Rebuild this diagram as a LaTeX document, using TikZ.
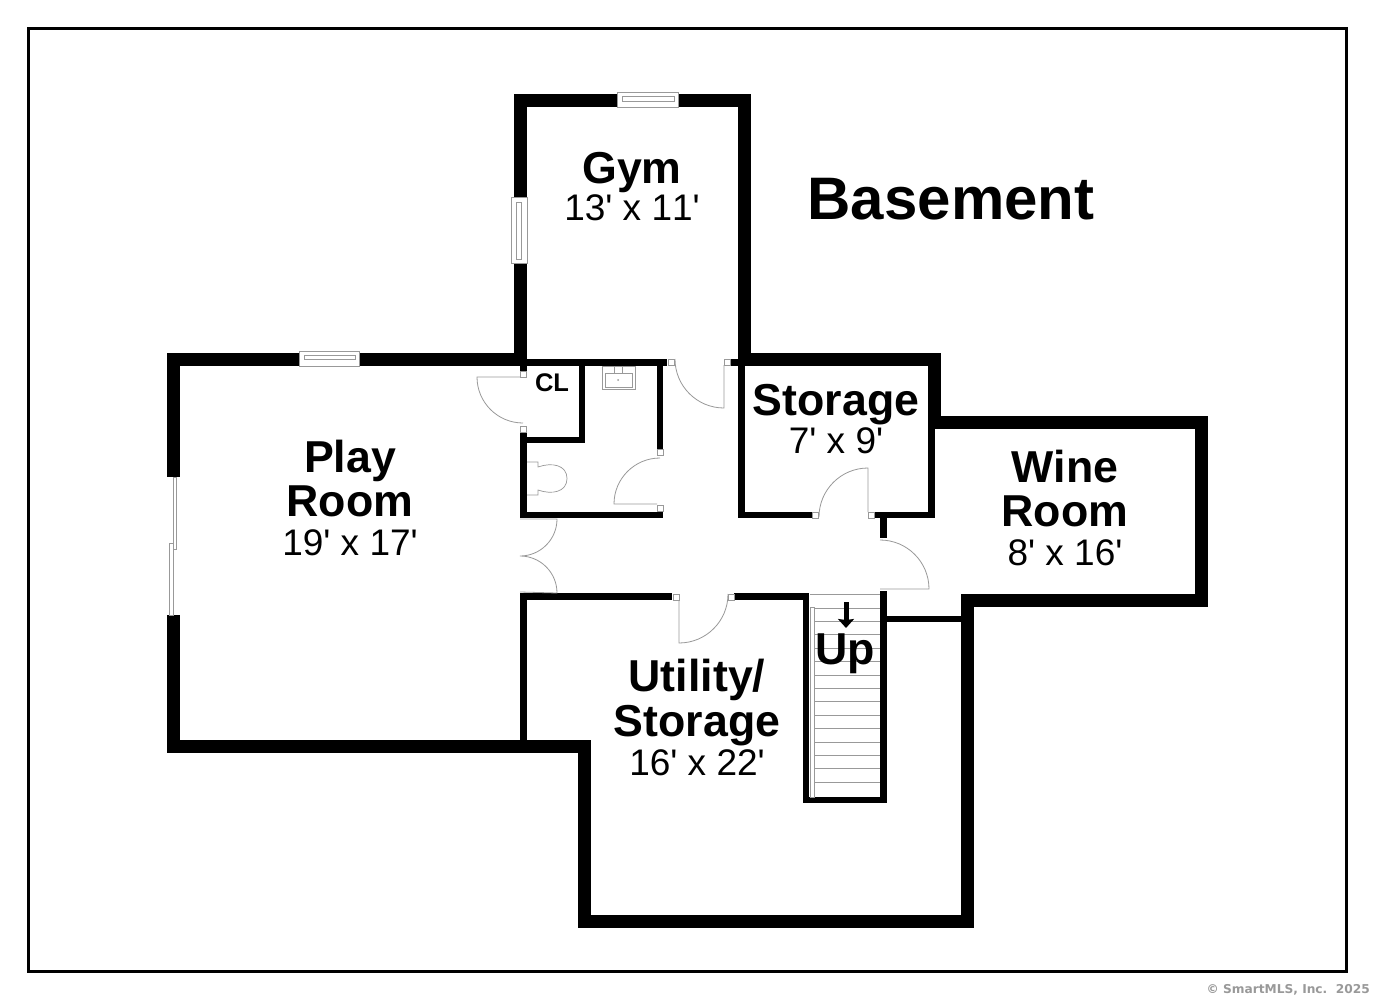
\documentclass[tikz,border=0pt]{standalone}
\usepackage{fontspec}
\usetikzlibrary{arrows.meta}
\newfontfamily\planfont{Liberation Sans}[Kerning=Off]
\newfontfamily\markfont{DejaVu Sans}
\definecolor{thinline}{gray}{0.6}
\tikzset{
    roomname/.style={anchor=base, inner sep=0pt, font=\planfont\bfseries\fontsize{44.7}{44}\selectfont},
    roomsize/.style={anchor=base, inner sep=0pt, font=\planfont\fontsize{37}{37}\selectfont},
    doorline/.style={thinline, line width=0.8pt},
    doorpost/.style={draw=thinline, fill=white, line width=0.8pt, minimum size=6pt, inner sep=0pt},
    winframe/.style={draw=thinline, fill=white, line width=0.8pt},
    fixture/.style={draw=thinline, line width=0.7pt},
}
\begin{document}
\begin{tikzpicture}[x=1pt, y=-1pt]
    \useasboundingbox (0, 0) rectangle (1375, 1000);
    \fill[white] (0, 0) rectangle (1375, 1000);
    \draw[line width=3pt] (28.5, 28.5) rectangle (1346.5, 971);

    % outer walls
    \foreach \xa/\ya/\xb/\yb in {514/94/751/107, 514/94/527/366, 738/94/751/366,
        167/353/527/366, 167/353/180/477, 167/615/180/753, 167/740/591/753,
        578/740/591/928, 578/915/974/928, 961/594/974/928, 961/594/1208/607,
        1195/416/1208/607, 928/416/1208/429, 928/353/941/429, 738/353/941/366} {
        \fill (\xa, \ya) rectangle (\xb, \yb);
    }
    % inner walls
    \foreach \xa/\ya/\xb/\yb in {520/366/527/372, 527/359/667/366, 579/366/585/443, 520/437/585/443,
        520/433/527/518, 520/512/663/518, 657/366/663/449, 731/359/738/366,
        738/366/745/518, 738/512/813/518, 874/512/935/518, 928/429/935/518,
        880/512/887/538, 880/591/887/803, 887/616/961/622, 520/593/527/740,
        520/593/672/600, 734/593/809/600, 803/593/809/803, 803/797/887/803} {
        \fill (\xa, \ya) rectangle (\xb, \yb);
    }

    % windows
    \draw[winframe] (617, 92.5) rectangle (678, 107);
    \draw[fixture] (622, 96) rectangle (674, 101);
    \draw[winframe] (511.5, 197) rectangle (527, 263);
    \draw[fixture] (516, 202) rectangle (521, 259);
    \draw[winframe] (299, 351) rectangle (359, 366);
    \draw[fixture] (304, 355) rectangle (355, 359);

    % sliding door
    \draw[fixture] (173, 477) rectangle (176, 549);
    \draw[fixture] (169, 543) rectangle (173, 615);

    % doors
    \draw[doorline] (521, 377) -- (477, 377) arc[radius=46, start angle=180, end angle=90];
    \draw[doorline] (657, 504) -- (614, 504) arc[radius=46, start angle=180, end angle=270];
    \draw[doorline] (724, 365) -- (724, 408) arc[radius=49, start angle=90, end angle=180];
    \draw[doorline] (868, 512) -- (868, 468) arc[radius=49, start angle=270, end angle=180];
    \draw[doorline] (880, 540) arc[radius=49, start angle=270, end angle=360] -- (880, 589);
    \draw[doorline] (679, 600) -- (679, 643) arc[radius=49, start angle=90, end angle=0];
    \draw[doorline] (520, 519) -- (557, 519) arc[radius=37, start angle=0, end angle=90]
        arc[radius=37, start angle=270, end angle=360] -- (520, 592);

    \foreach \n/\x/\y in {a/523.5/374, b/523.5/429, c/660/452, d/660/508, e/671/362,
        f/727/362, g/676/597, h/731/597, i/815/515, j/871/515} {
        \node[doorpost] (post\n) at (\x, \y) {};
    }

    % toilet
    \draw[fixture] (527, 462) -- (538, 462) -- (538, 467)
        .. controls (552, 462) and (567, 465) .. (567, 478.5)
        .. controls (567, 492) and (552, 495) .. (538, 490) -- (538, 495) -- (527, 495);
    % sink
    \draw[fixture] (602, 366) rectangle (635, 389);
    \draw[fixture] (605, 373) rectangle (632, 387);
    \draw[fixture] (614, 367) -- (614, 374);
    \draw[fixture] (622, 367) -- (622, 374);
    \fill[thinline] (618, 380) circle (1pt);

    % stairs
    \draw[fixture] (810, 594) -- (880, 594);
    \foreach \i in {0, 1, ..., 13} {
        \draw[fixture] (813, 608 + \i * 13.4) -- (880, 608 + \i * 13.4);
    }
    \draw[fixture, fill=white] (810, 607) rectangle (814, 797);
    \coordinate (uptail) at (846, 602);
    \coordinate (uptip) at (846, 628);
    \draw[-{Stealth[inset=1pt, length=9pt, width=16pt]}, line width=5pt] (uptail) -- (uptip);

    % labels
    \node[roomname, font=\planfont\bfseries\fontsize{60}{60}\selectfont] (basement) at (951, 220) {Basement};
    \node[roomname] (gym) at (632, 184) {Gym};
    \node[roomsize] (gymsize) at (632, 221) {13' x 11'};
    \node[roomname] (play) at (350, 472) {Play};
    \node[roomname] (playroom) at (350, 516) {Room};
    \node[roomsize] (playsize) at (350, 555) {19' x 17'};
    \node[roomname, font=\planfont\bfseries\fontsize{25.5}{25}\selectfont] (closet) at (552, 391) {CL};
    \node[roomname] (storage) at (836, 415) {Storage};
    \node[roomsize] (storagesize) at (836, 453) {7' x 9'};
    \node[roomname] (wine) at (1065, 482) {Wine};
    \node[roomname] (wineroom) at (1065, 526) {Room};
    \node[roomsize] (winesize) at (1065, 565) {8' x 16'};
    \node[roomname] (utility) at (697, 691) {Utility/};
    \node[roomname] (utilstorage) at (697, 736) {Storage};
    \node[roomsize] (utilsize) at (697, 775) {16' x 22'};
    \node[roomname] (up) at (845, 664) {Up};
    \node[anchor=base east, inner sep=0pt, text=black!40, font=\markfont\bfseries\fontsize{12.2}{12}\selectfont] (mark) at (1370, 993) {© SmartMLS, Inc.\ \ 2025};
\end{tikzpicture}
\end{document}
